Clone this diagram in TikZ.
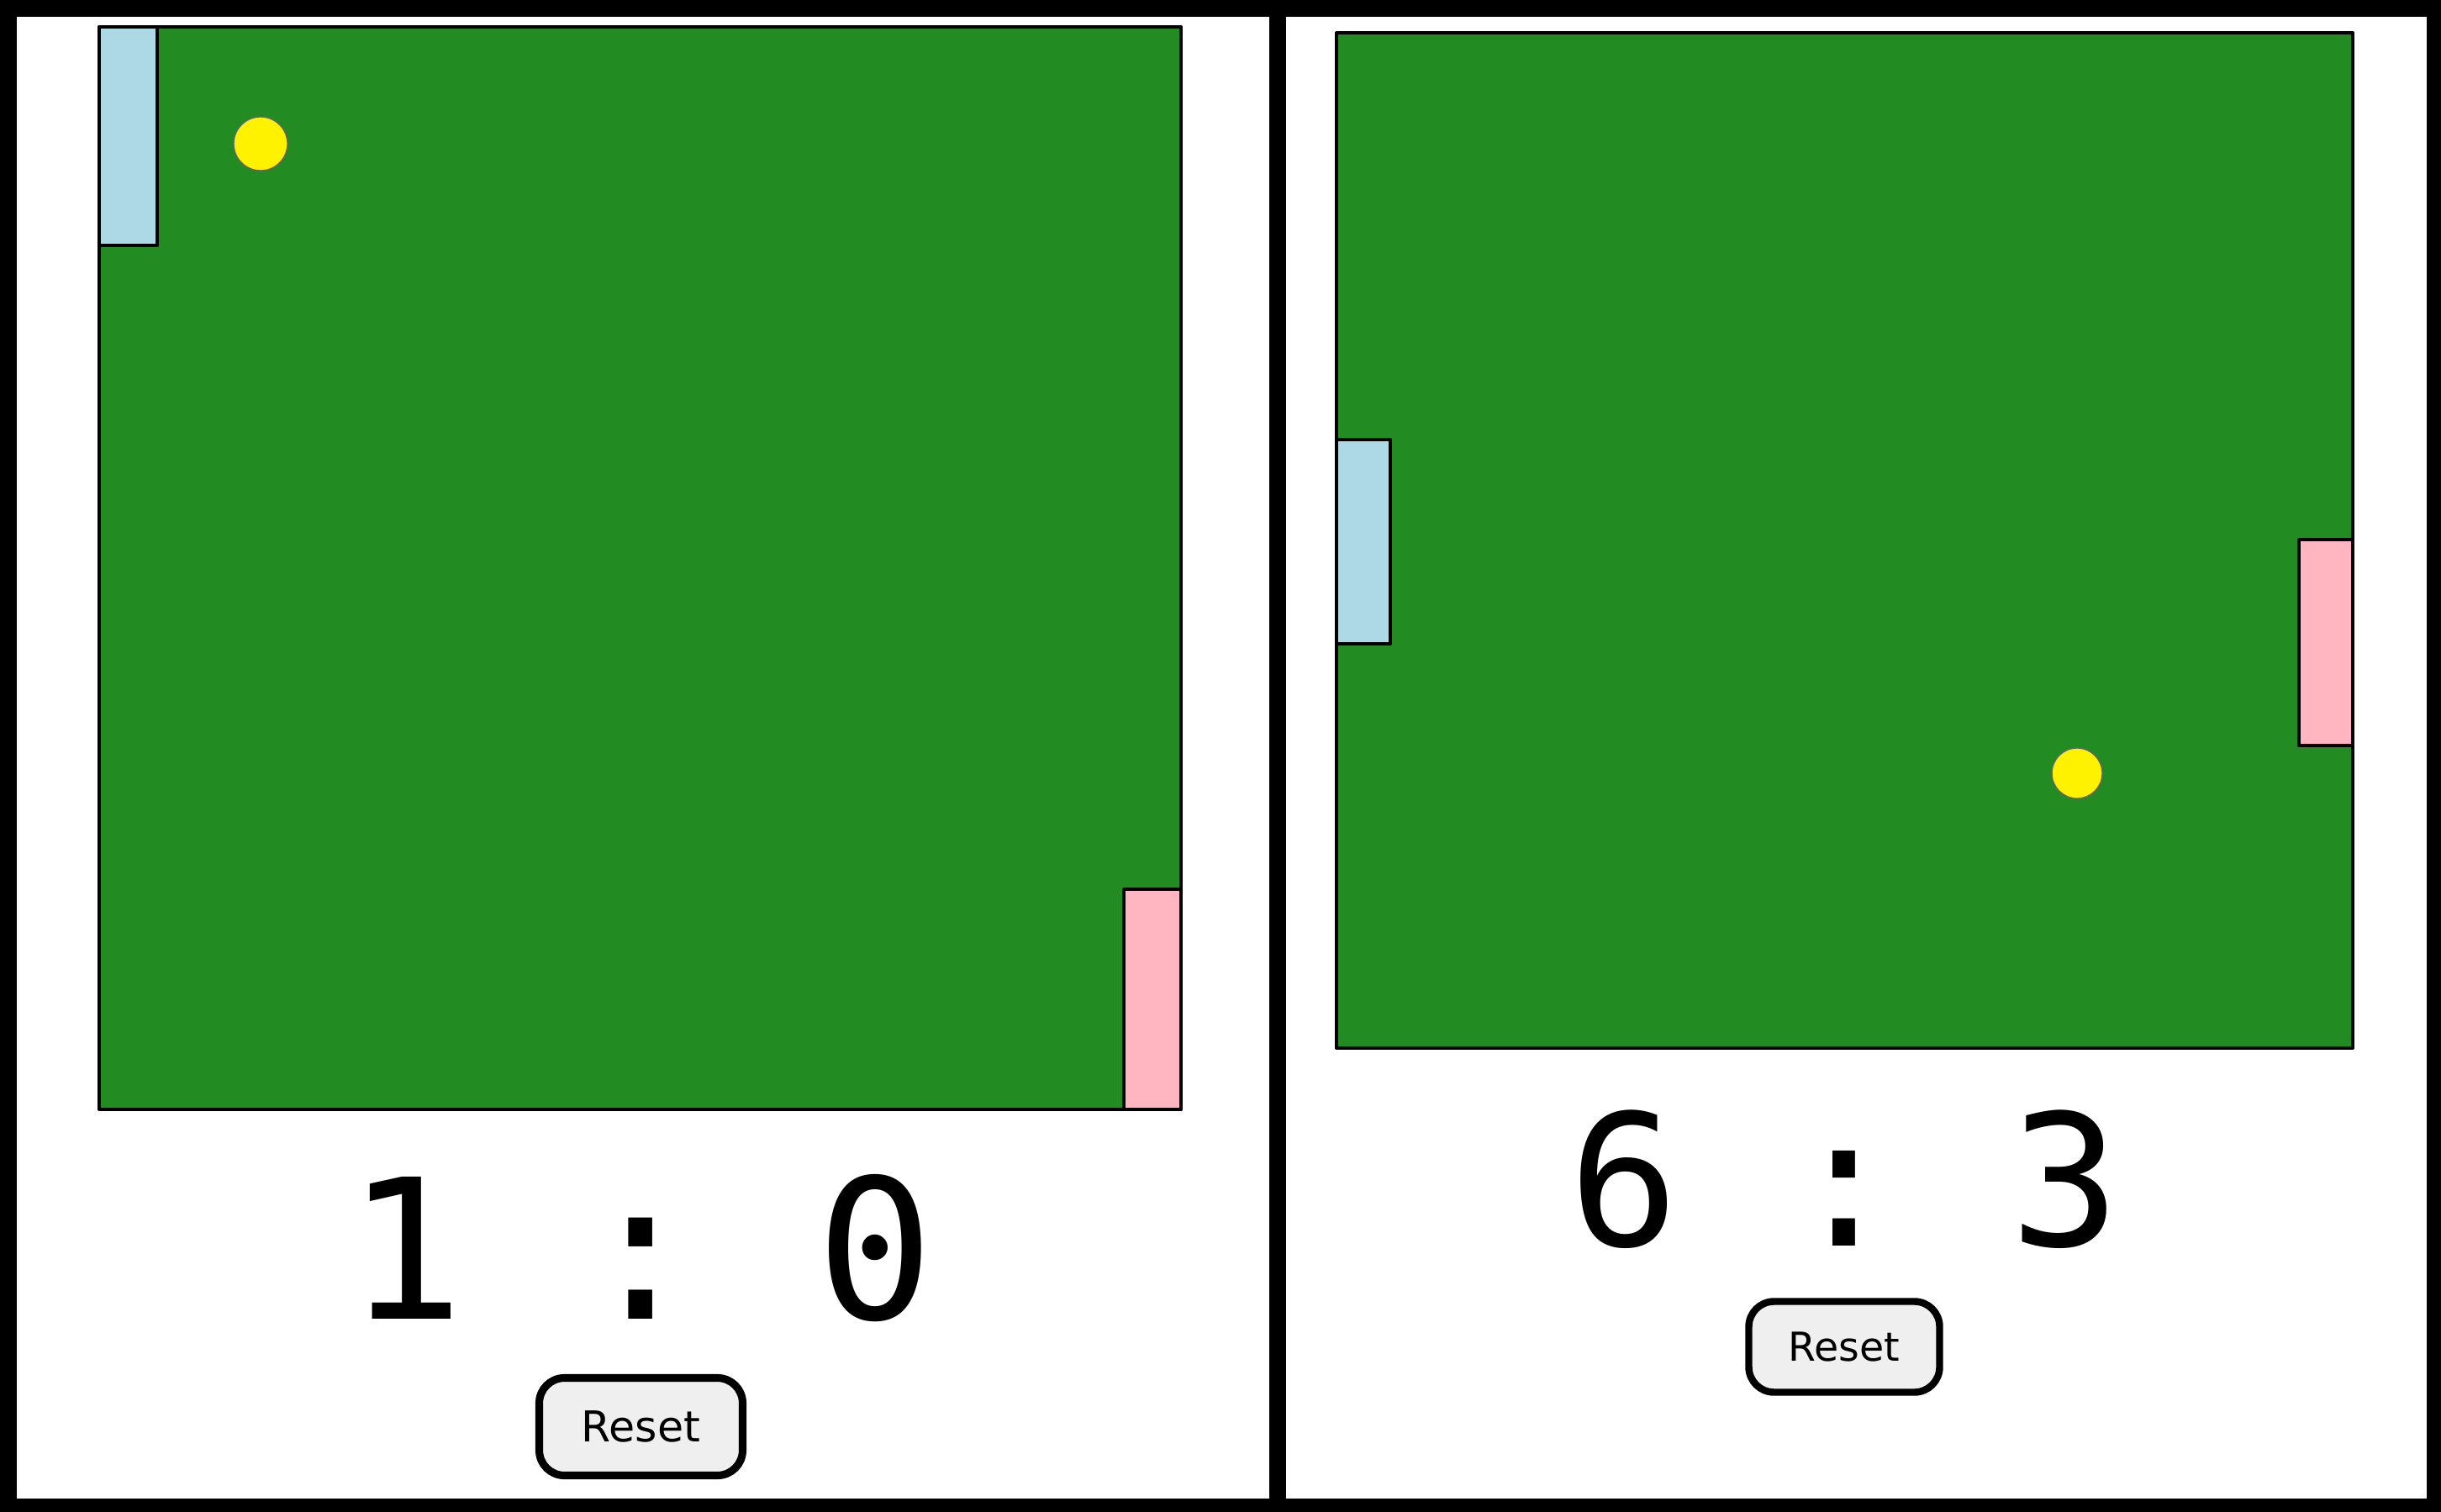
\documentclass[tikz,border=0pt]{standalone}
\usepackage{fontspec}
\newfontfamily\scorefont{DejaVu Sans Mono}
\newfontfamily\btnfont{DejaVu Sans}
\definecolor{fieldgreen}{HTML}{228B22}
\definecolor{padblue}{HTML}{ADD8E6}
\definecolor{padpink}{HTML}{FFB6C1}
\definecolor{btngray}{HTML}{EFEFEF}
\begin{document}
\begin{tikzpicture}[x=1cm,y=-1cm,line join = round,
  field/.style={fill=fieldgreen,draw=black,line width=1.1pt},
  paddle/.style={draw=black,line width=1.1pt},
  ball/.style={fill=yellow,draw=black!60,line width=0.4pt},
  score/.style={anchor=base,inner sep=0pt},
  resetbtn/.style={draw=black,fill=btngray,rounded corners=0.3cm,inner sep=0pt}]
\useasboundingbox (0,0) rectangle (29.04,17.99);
% frame
\fill (0,0) rectangle (29.04,17.99);
\fill[white] (0.20,0.20) rectangle (15.10,17.83);
\fill[white] (15.30,0.20) rectangle (28.87,17.83);
% left game
\draw[field] (1.18,0.32) rectangle (14.05,13.20);
\draw[paddle,fill=padblue] (1.18,0.32) rectangle (1.87,2.92);
\draw[paddle,fill=padpink] (13.37,10.58) rectangle (14.05,13.20);
\draw[ball] (3.10,1.71) circle (0.32);
\node[score,font=\scorefont\fontsize{66}{70}\selectfont\frenchspacing] (score1) at (7.62,15.69) {1 : 0};
\node[resetbtn,line width=2.6pt,minimum width=2.42cm,minimum height=1.16cm,font=\btnfont\fontsize{14.4}{16}\selectfont] (reset1) at (7.625,16.975) {Reset};
% right game
\draw[field] (15.90,0.39) rectangle (27.99,12.47);
\draw[paddle,fill=padblue] (15.90,5.23) rectangle (16.54,7.66);
\draw[paddle,fill=padpink] (27.35,6.42) rectangle (27.99,8.87);
\draw[ball] (24.71,9.20) circle (0.30);
\node[score,font=\scorefont\fontsize{62}{66}\selectfont\frenchspacing] (score2) at (21.945,14.82) {6 : 3};
\node[resetbtn,line width=2.4pt,minimum width=2.27cm,minimum height=1.08cm,font=\btnfont\fontsize{13.5}{15}\selectfont] (reset2) at (21.94,16.025) {Reset};
\end{tikzpicture}
\end{document}
